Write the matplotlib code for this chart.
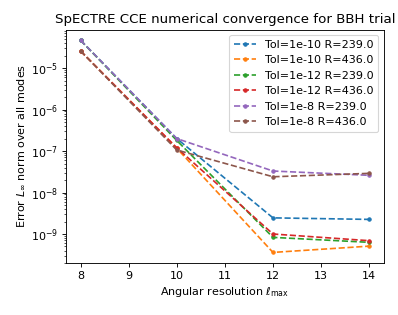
import numpy as np
import matplotlib
matplotlib.use("Agg")
import matplotlib.pyplot as plt

l_max = [8, 10, 12, 14]

# errors (log scale)
labels = ["Tol=1e-10 R=239.0", "Tol=1e-10 R=436.0",
          "Tol=1e-12 R=239.0", "Tol=1e-12 R=436.0",
          "Tol=1e-8 R=239.0", "Tol=1e-8 R=436.0"]
tol10_r239 = [4.7e-5, 2.0e-7, 2.45e-9, 2.25e-9]
tol10_r436 = [2.6e-5, 1.17e-7, 3.6e-10, 5.1e-10]
tol12_r239 = [4.7e-5, 1.8e-7, 8.3e-10, 6.3e-10]
tol12_r436 = [2.6e-5, 1.2e-7, 1.0e-9, 6.9e-10]
tol8_r239 = [4.7e-5, 2.0e-7, 3.3e-8, 2.6e-8]
tol8_r436 = [2.6e-5, 1.06e-7, 2.4e-8, 2.9e-8]

series = [tol10_r239, tol10_r436, tol12_r239, tol12_r436, tol8_r239, tol8_r436]

fig, ax = plt.subplots(figsize=(398 / 80, 315 / 80), dpi=80)
fig.subplots_adjust(left=0.166, right=0.964, top=0.906, bottom=0.165)

for errs, lab in zip(series, labels):
    ax.plot(l_max, errs, "--", marker=".", label=lab)

ax.set_yscale("log")
ax.set_xlabel(r"Angular resolution $\ell_{\max}$")
ax.set_ylabel(r"Error $L_\infty$ norm over all modes")
ax.set_title("SpECTRE CCE numerical convergence for BBH trial")
ax.legend(loc="upper right")

fig.savefig("out.png", dpi=80)
